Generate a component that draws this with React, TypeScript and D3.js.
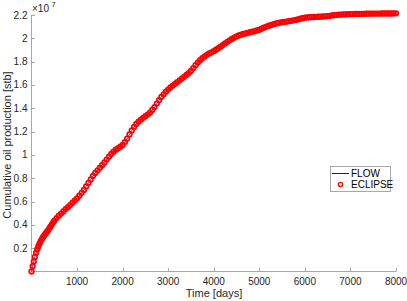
import React from "react";
import * as d3 from "d3";

const timeDays: number[] = [
  0, 25, 50, 75, 100, 125, 150, 175, 200, 225, 250, 275, 300, 325, 350, 375, 400, 425, 450, 475,
  500, 550, 600, 650, 700, 750, 800, 850, 900, 950,
  1000, 1050, 1100, 1150, 1200, 1250, 1300, 1350, 1400, 1450,
  1500, 1550, 1600, 1650, 1700, 1750, 1800, 1850, 1900, 1950,
  2000, 2050, 2100, 2150, 2200, 2250, 2300, 2350, 2400, 2450,
  2500, 2550, 2600, 2650, 2700, 2750, 2800, 2850, 2900, 2950,
  3000, 3050, 3100, 3150, 3200, 3250, 3300, 3350, 3400, 3450,
  3500, 3550, 3600, 3650, 3700, 3750, 3800, 3850, 3900, 3950,
  4000, 4050, 4100, 4150, 4200, 4250, 4300, 4350, 4400, 4450,
  4500, 4550, 4600, 4650, 4700, 4750, 4800, 4850, 4900, 4950,
  5000, 5050, 5100, 5150, 5200, 5250, 5300, 5350, 5400, 5450,
  5500, 5550, 5600, 5650, 5700, 5750, 5800, 5850, 5900, 5950,
  6000, 6050, 6100, 6150, 6200, 6250, 6300, 6350, 6400, 6450,
  6500, 6550, 6600, 6650, 6700, 6750, 6800, 6850, 6900, 6950,
  7000, 7050, 7100, 7150, 7200, 7250, 7300, 7350, 7400, 7450,
  7500, 7550, 7600, 7650, 7700, 7750, 7800, 7850, 7900, 7950, 8000,
];

// cumulative oil production, units of 1e7 stb
const cumOil: number[] = [
  0, 0.045, 0.085, 0.125, 0.16, 0.19, 0.215, 0.238, 0.258, 0.276, 0.292, 0.307, 0.32, 0.333, 0.346, 0.36, 0.375, 0.39, 0.405, 0.42,
  0.435, 0.458, 0.478, 0.497, 0.515, 0.535, 0.552, 0.57, 0.59, 0.61,
  0.628, 0.65, 0.675, 0.7, 0.73, 0.76, 0.79, 0.82, 0.845, 0.868,
  0.89, 0.912, 0.935, 0.96, 0.985, 1.008, 1.028, 1.045, 1.058, 1.07,
  1.085, 1.11, 1.14, 1.175, 1.21, 1.24, 1.265, 1.285, 1.302, 1.318,
  1.332, 1.346, 1.362, 1.385, 1.41, 1.44, 1.47, 1.497, 1.52, 1.542,
  1.56, 1.578, 1.595, 1.61, 1.625, 1.64, 1.655, 1.67, 1.686, 1.702,
  1.72, 1.745, 1.77, 1.792, 1.812, 1.83, 1.845, 1.858, 1.87, 1.88,
  1.89, 1.902, 1.915, 1.928, 1.942, 1.956, 1.97, 1.983, 1.995, 2.006,
  2.016, 2.024, 2.031, 2.037, 2.042, 2.047, 2.052, 2.057, 2.062, 2.067,
  2.073, 2.082, 2.091, 2.099, 2.106, 2.113, 2.12, 2.125, 2.13, 2.134,
  2.138, 2.141, 2.144, 2.147, 2.15, 2.154, 2.158, 2.163, 2.168, 2.173,
  2.177, 2.179, 2.181, 2.182, 2.183, 2.184, 2.185, 2.186, 2.187, 2.189,
  2.191, 2.193, 2.196, 2.199, 2.201, 2.203, 2.204, 2.205, 2.206, 2.207,
  2.208, 2.208, 2.209, 2.209, 2.21, 2.21, 2.21, 2.211, 2.211, 2.211,
  2.212, 2.212, 2.212, 2.212, 2.213, 2.213, 2.213, 2.213, 2.213, 2.214, 2.214,
];

const xTicks: number[] = [1000, 2000, 3000, 4000, 5000, 6000, 7000, 8000];
const yTicks: number[] = [0.2, 0.4, 0.6, 0.8, 1, 1.2, 1.4, 1.6, 1.8, 2, 2.2];
const seriesNames: string[] = ["FLOW", "ECLIPSE"];

const W = 407;
const H = 301;
const FONT = "'Liberation Sans', Arial, Helvetica, sans-serif";
const TXT = "#262626";
const AX = "#a8a8a8";
const BLUE = "#1010c8";
const RED = "#ff0000";

export default function App() {
  const x = d3.scaleLinear().domain([0, 8000]).range([31.5, 396]);
  const y = d3.scaleLinear().domain([0, 2.2]).range([271.5, 15]);
  const pts = timeDays.map((t, i) => [t, cumOil[i]] as [number, number]);
  const line = d3
    .line<[number, number]>()
    .x((d) => x(d[0]))
    .y((d) => y(d[1]));

  return (
    <svg
      width={W}
      height={H}
      style={{ position: "absolute", left: 0, top: 0, background: "#fff" }}
      fontFamily={FONT}
    >
      <rect x={0} y={0} width={W} height={H} fill="#fff" />
      {/* axes */}
      <line x1={31.5} x2={31.5} y1={15} y2={272} stroke={AX} strokeWidth={1} />
      <line x1={31} x2={396} y1={271.5} y2={271.5} stroke={AX} strokeWidth={1} />
      {yTicks.map((v) => (
        <g key={"y" + v}>
          <line x1={31.5} x2={35} y1={Math.round(y(v)) + 0.5} y2={Math.round(y(v)) + 0.5} stroke={AX} />
          <text x={27.5} y={y(v)} dy="0.35em" textAnchor="end" fontSize={10} fill={TXT}>
            {String(v)}
          </text>
        </g>
      ))}
      {xTicks.map((t) => (
        <g key={"x" + t}>
          <line x1={Math.round(x(t)) + 0.5} x2={Math.round(x(t)) + 0.5} y1={271.5} y2={268} stroke={AX} />
          <text x={x(t)} y={285} textAnchor="middle" fontSize={10} fill={TXT}>
            {String(t)}
          </text>
        </g>
      ))}
      {/* exponent */}
      <text x={32} y={12} fontSize={10} fill={TXT}>
        ×10
      </text>
      <text x={51.5} y={7} fontSize={7.5} fill={TXT}>
        7
      </text>
      {/* labels */}
      <text x={214} y={297} textAnchor="middle" fontSize={11} fill={TXT}>
        Time [days]
      </text>
      <text transform={`translate(10.5,145) rotate(-90)`} textAnchor="middle" fontSize={11} fill={TXT}>
        Cumulative oil production [stb]
      </text>
      {/* FLOW line */}
      <path d={line(pts) || ""} fill="none" stroke={BLUE} strokeWidth={0.8} />
      {/* ECLIPSE markers */}
      {pts.map((d, i) => (
        <circle key={"m" + i} cx={x(d[0])} cy={y(d[1])} r={2.3} fill="none" stroke={RED} strokeWidth={1.7} />
      ))}
      {/* legend */}
      <rect x={330.5} y={166.5} width={60} height={25} fill="#fff" stroke={AX} strokeWidth={1} />
      <line x1={332} x2={349} y1={173.5} y2={173.5} stroke={BLUE} strokeWidth={1} />
      <text x={351} y={173.5} dy="0.35em" fontSize={10} fill="#000">
        {seriesNames[0]}
      </text>
      <circle cx={340.5} cy={184.5} r={2.1} fill="none" stroke={RED} strokeWidth={1.4} />
      <text x={351} y={184.5} dy="0.35em" fontSize={10} fill="#000">
        {seriesNames[1]}
      </text>
    </svg>
  );
}
